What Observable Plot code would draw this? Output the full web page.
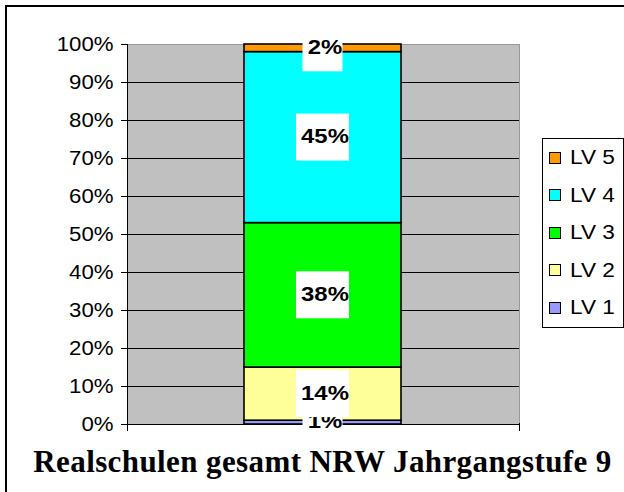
<!DOCTYPE html>
<html>
<head>
<meta charset="utf-8">
<script src="https://cdn.jsdelivr.net/npm/d3@7"></script>
<script src="https://cdn.jsdelivr.net/npm/@observablehq/plot@0.6"></script>
<style>
  html, body { margin: 0; padding: 0; background: #fff; }
  #wrap { position: relative; width: 624px; height: 492px; overflow: hidden; background: #fff; }
  #outer { position: absolute; left: 5px; top: 5px; width: 800px; height: 800px; border: 2px solid #000; box-sizing: border-box; }
  #chart { position: absolute; left: 0; top: 0; }
  #legend { position: absolute; left: 542px; top: 138px; width: 80px; border: 1px solid #000; background: #fff; box-sizing: content-box; }
  .item { height: 37.5px; display: flex; align-items: center; font-family: "Liberation Sans", Arial, sans-serif; font-size: 19.5px; color: #000; white-space: nowrap; }
  .item span { display: inline-block; transform: scaleX(1.16); transform-origin: left center; }
  .sw { width: 10px; height: 10px; border: 1px solid #000; margin-left: 6px; margin-right: 9px; flex: none; }
  #title { position: absolute; left: 0; top: 446px; width: 624px; padding-left: 21px; box-sizing: border-box; text-align: center; font-family: "Liberation Serif", "Times New Roman", serif; font-weight: bold; font-size: 31px; line-height: 31px; letter-spacing: 0.4px; color: #000; white-space: nowrap; }
</style>
</head>
<body>
<div id="wrap">
  <div id="outer"></div>
  <div id="chart"></div>
  <div id="legend"></div>
  <div id="title"></div>
</div>
<script>
// ---- data ----
const title = "Realschulen gesamt NRW Jahrgangstufe 9";
const group = "Realschulen gesamt";
const seriesNames = ["LV 1", "LV 2", "LV 3", "LV 4", "LV 5"];
const seriesValues = [0.01, 0.14, 0.38, 0.45, 0.02];
const seriesLabels = ["1%", "14%", "38%", "45%", "2%"];
const seriesColors = ["#9999FF", "#FFFF99", "#00FF00", "#00FFFF", "#FF9900"];
const yTickValues = [0, 0.1, 0.2, 0.3, 0.4, 0.5, 0.6, 0.7, 0.8, 0.9, 1.0];
const gridValues = [0.1, 0.2, 0.3, 0.4, 0.5, 0.6, 0.7, 0.8, 0.9];

// ---- build table ----
let cum = 0;
const rows = seriesNames.map((s, i) => {
  const r = { group, series: s, value: seriesValues[i], label: seriesLabels[i], mid: cum + seriesValues[i] / 2 };
  cum += seriesValues[i];
  return r;
});

const BAND_W = 157;       // px width of bar (for label box insets)
const BOX_H = 0.0618;     // half label-box height in y units
const FONT = "Liberation Sans, Arial, sans-serif";

const labelMarks = [];
rows.forEach(r => {
  const boxW = r.label.length > 2 ? 53 : 40;
  const inset = (BAND_W - boxW) / 2;
  labelMarks.push(Plot.barY([r], {
    x: "group", y1: d => d.mid - BOX_H, y2: d => d.mid + BOX_H,
    fill: "white", insetLeft: inset, insetRight: inset
  }));
  labelMarks.push(Plot.text([r], {
    x: "group", y: "mid", text: "label", className: "dlabel",
    fontWeight: "bold", fontSize: 21, fontFamily: FONT, fill: "black", dy: -1, dx: 2
  }));
});

const chart = Plot.plot({
  width: 624,
  height: 440,
  marginTop: 44,
  marginBottom: 16,
  marginLeft: 127,
  marginRight: 105,
  style: { background: "transparent", overflow: "visible" },
  x: { domain: [group], padding: 0.427, axis: null },
  y: { domain: [0, 1], axis: null },
  color: { domain: seriesNames, range: seriesColors },
  marks: [
    Plot.frame({ fill: "#C0C0C0", stroke: "#999999" }),
    Plot.ruleY(gridValues, { stroke: "black", strokeWidth: 1 }),
    Plot.axisY({
      ticks: yTickValues, tickFormat: d3.format(".0%"),
      tickSize: 6, tickPadding: 8, fontSize: 19.5, fontFamily: FONT,
      fill: "black", stroke: "black", label: null
    }),
    Plot.frame({ anchor: "left", stroke: "black", insetBottom: -6 }),
    Plot.frame({ anchor: "right", stroke: "black", insetTop: 379, insetBottom: -6 }),
    Plot.ruleY([0], { stroke: "black" }),
    Plot.barY(rows, { x: "group", y: "value", fill: "series", stroke: "black", strokeWidth: 1.6 }),
    ...labelMarks
  ]
});

// horizontal stretch of text glyphs (the reference text is drawn wider than normal)
chart.querySelectorAll("text").forEach(t => {
  const tr = t.getAttribute("transform");
  if (tr) t.setAttribute("transform", tr + " scale(1.14,1)");
});
document.getElementById("chart").appendChild(chart);

// ---- legend ----
const legend = document.getElementById("legend");
seriesNames.slice().reverse().forEach((s) => {
  const i = seriesNames.indexOf(s);
  const item = document.createElement("div");
  item.className = "item";
  const sw = document.createElement("div");
  sw.className = "sw";
  sw.style.background = seriesColors[i];
  const tx = document.createElement("span");
  tx.textContent = s;
  item.appendChild(sw);
  item.appendChild(tx);
  legend.appendChild(item);
});

document.getElementById("title").textContent = title;
</script>
</body>
</html>
